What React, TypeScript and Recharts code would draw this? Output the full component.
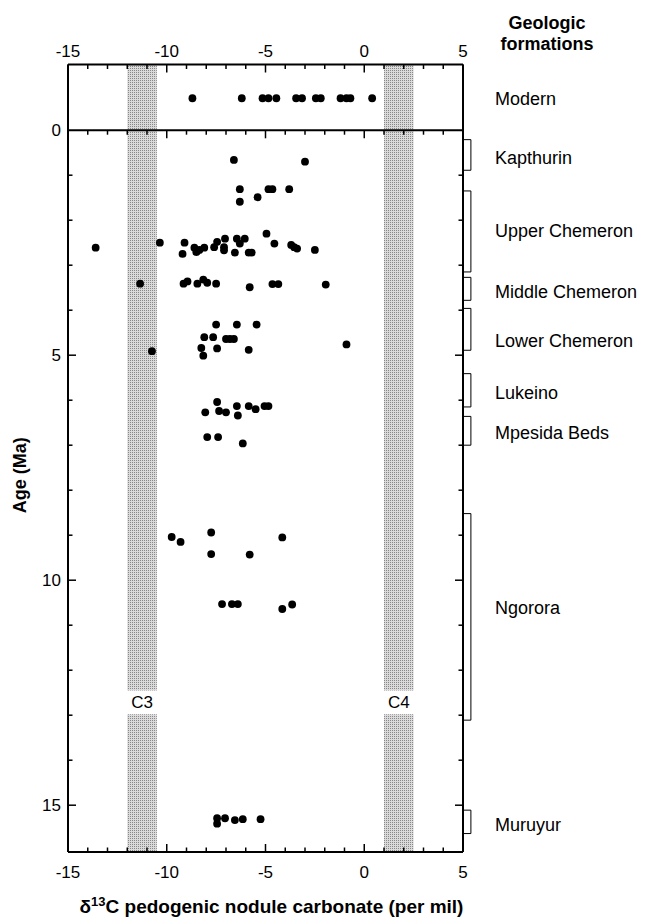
import React from "react"
import { ScatterChart, Scatter, XAxis, YAxis, ReferenceArea, ReferenceLine } from "recharts"

const FONT = '"Liberation Sans", Arial, Helvetica, sans-serif'

// axis ticks
const d13cTicks = [-15, -14, -13, -12, -11, -10, -9, -8, -7, -6, -5, -4, -3, -2, -1, 0, 1, 2, 3, 4, 5]
const ageTicks = [0, 1, 2, 3, 4, 5, 6, 7, 8, 9, 10, 11, 12, 13, 14, 15, 16]
const AGE_TOP = -1.46 // top of the "modern" panel
const AGE_BOTTOM = 16.04
const MODERN_ROW = -0.71

// modern soils, d13C only
const modern = [-8.7, -6.2, -5.15, -4.85, -4.45, -3.45, -3.15, -2.45, -2.2, -1.2, -0.9, -0.7, 0.4]

// [d13C, age Ma]
const kapthurin = [[-6.6, 0.66], [-3.0, 0.7]]
const upperChemeron = [
  [-6.3, 1.31], [-4.85, 1.31], [-4.65, 1.31], [-3.8, 1.31], [-6.3, 1.59], [-5.4, 1.49],
  [-13.6, 2.61], [-10.35, 2.5], [-9.1, 2.5], [-9.2, 2.75], [-8.6, 2.61], [-8.5, 2.71],
  [-8.35, 2.66], [-8.1, 2.61], [-7.6, 2.6], [-7.45, 2.48], [-7.05, 2.41], [-7.1, 2.67],
  [-7.1, 2.6], [-6.45, 2.41], [-6.05, 2.41], [-6.3, 2.52], [-6.55, 2.72], [-5.85, 2.72],
  [-5.7, 2.72], [-4.95, 2.3], [-4.55, 2.52], [-3.7, 2.55], [-3.55, 2.6], [-3.4, 2.63], [-2.5, 2.66],
]
const middleChemeron = [
  [-11.35, 3.41], [-9.15, 3.41], [-8.95, 3.36], [-8.45, 3.41], [-8.15, 3.32], [-7.95, 3.39],
  [-7.5, 3.41], [-5.8, 3.49], [-4.65, 3.42], [-4.35, 3.42], [-1.95, 3.43],
]
const lowerChemeron = [
  [-7.5, 4.32], [-6.45, 4.32], [-5.45, 4.32], [-8.1, 4.6], [-7.65, 4.6], [-7.0, 4.64],
  [-6.8, 4.64], [-6.6, 4.64], [-8.25, 4.84], [-8.15, 5.01], [-7.45, 4.85], [-5.85, 4.88],
  [-10.75, 4.91], [-0.9, 4.76],
]
const lukeino = [
  [-7.45, 6.04], [-8.05, 6.27], [-7.35, 6.24], [-7.0, 6.27], [-6.45, 6.13], [-6.4, 6.34],
  [-5.85, 6.13], [-5.5, 6.2], [-5.05, 6.13], [-4.85, 6.13],
]
const mpesida = [[-7.95, 6.82], [-7.4, 6.82], [-6.15, 6.96]]
const ngorora = [
  [-9.75, 9.04], [-9.3, 9.15], [-7.75, 8.94], [-7.75, 9.42], [-5.8, 9.43], [-4.15, 9.05],
  [-7.2, 10.53], [-6.7, 10.53], [-6.4, 10.53], [-4.15, 10.64], [-3.65, 10.54],
]
const muruyur = [[-7.45, 15.29], [-7.45, 15.41], [-7.05, 15.29], [-6.55, 15.33], [-6.15, 15.31], [-5.25, 15.31]]

// formation name, top age, base age, label age
const formationNames = ["Kapthurin", "Upper Chemeron", "Middle Chemeron", "Lower Chemeron", "Lukeino", "Mpesida Beds", "Ngorora", "Muruyur"]
const formationTop = [0.21, 1.35, 3.27, 3.96, 5.41, 6.36, 8.52, 15.11]
const formationBase = [0.89, 3.15, 3.78, 4.89, 6.15, 7.0, 13.11, 15.63]
const formationLabelAge = [0.6, 2.24, 3.58, 4.68, 5.84, 6.71, 10.6, 15.44]

// isotope end-member bands
const bands = [
  { name: "C3", from: -12, to: -10.5 },
  { name: "C4", from: 1, to: 2.5 },
]
const BAND_GAP = [12.45, 12.98]

const toPoints = (rows: number[][]) => rows.map(([x, y]) => ({ x, y }))

const fossil = [
  ...toPoints(kapthurin),
  ...toPoints(upperChemeron),
  ...toPoints(middleChemeron),
  ...toPoints(lowerChemeron),
  ...toPoints(lukeino),
  ...toPoints(mpesida),
  ...toPoints(ngorora),
  ...toPoints(muruyur),
]
const modernPoints = modern.map((x) => ({ x, y: MODERN_ROW }))
const formationLabels = [
  { x: 5, y: MODERN_ROW, name: "Modern" },
  ...formationNames.map((name, i) => ({ x: 5, y: formationLabelAge[i], name })),
]

const Dot = (p: any) => <circle cx={p.cx} cy={p.cy} r={3.9} fill="#000" />

const FormationText = (p: any) => (
  <text x={p.cx + 32} y={p.cy} dy="0.36em" fontFamily={FONT} fontSize={18} fill="#000">
    {p.payload.name}
  </text>
)

const tickLen = (v: number) => (v % 5 === 0 ? 8 : 4.5)

const LeftTick = (p: any) => {
  const v = p.payload.value
  return (
    <g>
      {v > 0 && v < 16 && <line x1={p.x} x2={p.x + tickLen(v)} y1={p.y} y2={p.y} stroke="#000" strokeWidth={1.5} />}
      {v % 5 === 0 && (
        <text x={p.x - 7} y={p.y} dy="0.36em" textAnchor="end" fontFamily={FONT} fontSize={17} fill="#000">
          {v}
        </text>
      )}
    </g>
  )
}

const RightTick = (p: any) => {
  const v = p.payload.value
  if (v <= 0 || v >= 16) return <g />
  return <line x1={p.x} x2={p.x - tickLen(v)} y1={p.y} y2={p.y} stroke="#000" strokeWidth={1.5} />
}

const TopTick = (p: any) => {
  const v = p.payload.value
  return (
    <g>
      <line x1={p.x} x2={p.x} y1={p.y} y2={p.y + tickLen(v)} stroke="#000" strokeWidth={1.5} />
      {v % 5 === 0 && (
        <text x={p.x} y={p.y - 14} dy="0.36em" textAnchor="middle" fontFamily={FONT} fontSize={17} fill="#000">
          {v}
        </text>
      )}
    </g>
  )
}

const BottomTick = (p: any) => {
  const v = p.payload.value
  return (
    <g>
      <line x1={p.x} x2={p.x} y1={p.y} y2={p.y - tickLen(v)} stroke="#000" strokeWidth={1.5} />
      {v % 5 === 0 && (
        <text x={p.x} y={p.y + 20} dy="0.36em" textAnchor="middle" fontFamily={FONT} fontSize={17} fill="#000">
          {v}
        </text>
      )}
    </g>
  )
}

const BandLabel = (p: any) => (
  <text
    x={p.viewBox.x + p.viewBox.width / 2}
    y={p.viewBox.y + p.viewBox.height / 2}
    dy="0.36em"
    textAnchor="middle"
    fontFamily={FONT}
    fontSize={17}
    fill="#000"
  >
    {p.value}
  </text>
)

const axisLine = { stroke: "#000", strokeWidth: 2 }

export default function App() {
  return (
    <div style={{ position: "absolute", left: 0, top: 0, background: "#fff" }}>
      <ScatterChart width={646} height={920} margin={{ top: 34.5, right: 173, bottom: 38, left: 8 }}>
        <defs>
          <pattern id="stipple" width="2" height="2" patternUnits="userSpaceOnUse">
            <rect width="2" height="2" fill="#dadada" />
            <rect width="1" height="1" fill="#888888" />
          </pattern>
        </defs>
        <XAxis
          xAxisId="b"
          dataKey="x"
          type="number"
          orientation="bottom"
          domain={[-15, 5]}
          ticks={d13cTicks}
          interval={0}
          height={30}
          tickSize={0}
          tickMargin={0}
          tickLine={false}
          axisLine={axisLine}
          tick={BottomTick}
          label={(p: any) => (
            <text
              x={p.viewBox.x + p.viewBox.width / 2 + 6}
              y={p.viewBox.y + 61}
              textAnchor="middle"
              fontFamily={FONT}
              fontSize={19}
              fontWeight="bold"
              fill="#000"
            >
              δ<tspan fontSize={13} dy={-7}>13</tspan>
              <tspan dy={7}>C pedogenic nodule carbonate (per mil)</tspan>
            </text>
          )}
        />
        <XAxis
          xAxisId="t"
          dataKey="x"
          type="number"
          orientation="top"
          domain={[-15, 5]}
          ticks={d13cTicks}
          interval={0}
          height={30}
          tickSize={0}
          tickMargin={0}
          tickLine={false}
          axisLine={axisLine}
          tick={TopTick}
        />
        <YAxis
          yAxisId="l"
          dataKey="y"
          type="number"
          orientation="left"
          reversed
          domain={[AGE_TOP, AGE_BOTTOM]}
          ticks={ageTicks}
          interval={0}
          width={60}
          tickSize={0}
          tickMargin={0}
          tickLine={false}
          axisLine={axisLine}
          tick={LeftTick}
          label={(p: any) => {
            const cx = p.viewBox.x + 12
            const cy = p.viewBox.y + p.viewBox.height / 2 + 17
            return (
              <text
                x={cx}
                y={cy}
                transform={`rotate(-90 ${cx} ${cy})`}
                dy="0.36em"
                textAnchor="middle"
                fontFamily={FONT}
                fontSize={18}
                fontWeight="bold"
                fill="#000"
              >
                Age (Ma)
              </text>
            )
          }}
        />
        <YAxis
          yAxisId="r"
          dataKey="y"
          type="number"
          orientation="right"
          reversed
          domain={[AGE_TOP, AGE_BOTTOM]}
          ticks={ageTicks}
          interval={0}
          width={10}
          tickSize={0}
          tickMargin={0}
          tickLine={false}
          axisLine={axisLine}
          tick={RightTick}
          label={(p: any) => (
            <text textAnchor="middle" fontFamily={FONT} fontSize={18} fontWeight="bold" fill="#000">
              <tspan x={p.viewBox.x + 84} y={p.viewBox.y - 36}>Geologic</tspan>
              <tspan x={p.viewBox.x + 84} y={p.viewBox.y - 15}>formations</tspan>
            </text>
          )}
        />

        {bands.map((b) => (
          <ReferenceArea
            key={b.name + "-top"}
            xAxisId="b"
            yAxisId="l"
            x1={b.from}
            x2={b.to}
            y1={AGE_TOP}
            y2={BAND_GAP[0]}
            fill="url(#stipple)"
            fillOpacity={1}
            stroke="none"
          />
        ))}
        {bands.map((b) => (
          <ReferenceArea
            key={b.name + "-bottom"}
            xAxisId="b"
            yAxisId="l"
            x1={b.from}
            x2={b.to}
            y1={BAND_GAP[1]}
            y2={AGE_BOTTOM}
            fill="url(#stipple)"
            fillOpacity={1}
            stroke="none"
          />
        ))}
        {bands.map((b) => (
          <ReferenceArea
            key={b.name + "-label"}
            xAxisId="b"
            yAxisId="l"
            x1={b.from}
            x2={b.to}
            y1={BAND_GAP[0]}
            y2={BAND_GAP[1]}
            fill="none"
            stroke="none"
            label={{ value: b.name, content: BandLabel }}
          />
        ))}

        <ReferenceLine xAxisId="b" yAxisId="l" y={0} stroke="#000" strokeWidth={2} />
        {d13cTicks.slice(1, -1).map((t) => (
          <ReferenceLine
            key={"div" + t}
            xAxisId="b"
            yAxisId="l"
            segment={[{ x: t, y: 0 }, { x: t, y: t % 5 === 0 ? 0.18 : 0.1 }]}
            stroke="#000"
            strokeWidth={1.5}
          />
        ))}

        {formationNames.map((name, i) => (
          <ReferenceArea
            key={name}
            xAxisId="b"
            yAxisId="l"
            x1={5}
            x2={5.4}
            y1={formationTop[i]}
            y2={formationBase[i]}
            ifOverflow="visible"
            fill="#fff"
            fillOpacity={1}
            stroke="#000"
            strokeWidth={1}
          />
        ))}

        <Scatter xAxisId="b" yAxisId="l" data={modernPoints} shape={Dot} isAnimationActive={false} />
        <Scatter xAxisId="b" yAxisId="l" data={fossil} shape={Dot} isAnimationActive={false} />
        <Scatter xAxisId="t" yAxisId="r" data={formationLabels} shape={FormationText} isAnimationActive={false} />
      </ScatterChart>
    </div>
  )
}
